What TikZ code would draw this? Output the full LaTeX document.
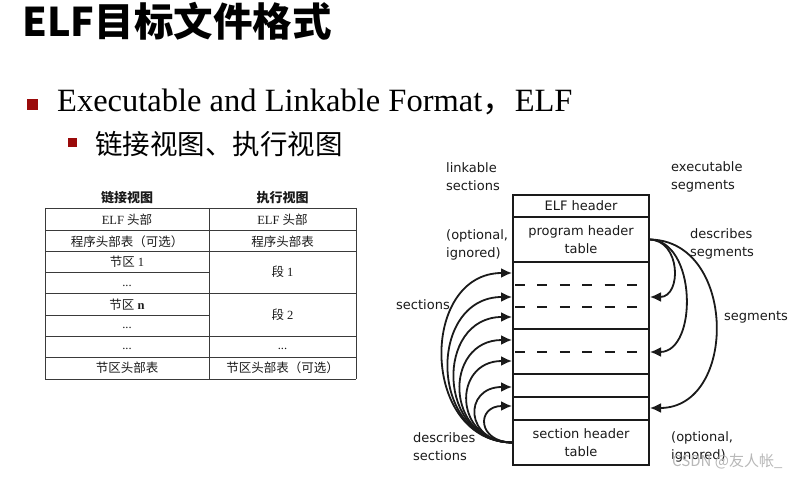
\documentclass[tikz,border=0pt]{standalone}
\usepackage{fontspec}
\setmainfont{Liberation Serif}
\newfontfamily\cjk{Noto Sans CJK SC}
\newfontfamily\dejavu{DejaVu Sans}
\usetikzlibrary{arrows.meta,positioning,calc}
\definecolor{Ink}{HTML}{1A1A1A}
\definecolor{Bullet}{HTML}{9A0A0A}
\definecolor{Rule}{HTML}{3A3A3A}
\definecolor{Mark}{HTML}{B8B8B8}

\tikzset{
  block/.style={draw=Ink,line width=1.8pt,minimum width=136pt,inner sep=0pt,
                outer sep=0pt,font=\dejavu\fontsize{13}{18}\selectfont,
                align=center,text=Ink},
  cut/.style={Ink,line width=2.4pt,dash pattern=on 10pt off 12.4pt},
  link/.style={Ink,line width=1.8pt,-{Latex[length=11pt,width=10pt]}},
  lbl/.style={font=\dejavu\fontsize{13}{18}\selectfont,text=Ink,align=left,
              inner sep=0pt,anchor=west},
  cell/.style={font=\fontsize{12.5}{14}\selectfont,text=Ink,inner sep=0pt},
  grid/.style={Rule,line width=0.8pt}
}

\begin{document}
\begin{tikzpicture}[x=1pt,y=-1pt]
  \useasboundingbox[fill=white] (0,0) rectangle (804,478);

  % title and bullets
  \node[anchor=west,inner sep=0pt,font=\cjk\bfseries\fontsize{39.5}{42}\selectfont]
        (title) at (22,21) {ELF目标文件格式};
  \node[fill=Bullet,minimum size=11pt,inner sep=0pt] (dot1) at (32.5,104.5) {};
  \node[anchor=base west,inner sep=0pt,font=\fontsize{32.5}{35}\selectfont]
        (item1) at (57,112) {Executable and Linkable Format{\cjk ，}ELF};
  \node[fill=Bullet,minimum size=9pt,inner sep=0pt] (dot2) at (72.5,142.5) {};
  \node[anchor=west,inner sep=0pt,font=\cjk\fontsize{27.5}{30}\selectfont]
        (item2) at (95,144) {链接视图、执行视图};

  % table of the two views
  \foreach \y in {208,230,251,293,336,357,379}
    \draw[grid] (45,\y) -- (356,\y);
  \foreach \y in {272,315}
    \draw[grid] (45,\y) -- (209,\y);
  \foreach \x in {45,209,356}
    \draw[grid] (\x,208) -- (\x,379);
  \node[cell,font=\cjk\bfseries\fontsize{13}{14}\selectfont] (lhead) at (127,198) {链接视图};
  \node[cell,font=\cjk\bfseries\fontsize{13}{14}\selectfont] (rhead) at (282.5,198) {执行视图};
  \node[cell] (la) at (127,220) {ELF {\cjk 头部}};
  \node[cell] (ra) at (282.5,220) {ELF {\cjk 头部}};
  \node[cell] (lb) at (127,241.5) {\cjk 程序头部表（可选）};
  \node[cell] (rb) at (282.5,241.5) {\cjk 程序头部表};
  \node[cell] (lc) at (127,262) {{\cjk 节区} 1};
  \node[cell,anchor=base] (ld) at (127,287) {...};
  \node[cell] (rc) at (282.5,272) {{\cjk 段} 1};
  \node[cell] (le) at (127,305) {{\cjk 节区} \textbf{n}};
  \node[cell,anchor=base] (lf) at (127,329) {...};
  \node[cell] (re) at (282.5,315) {{\cjk 段} 2};
  \node[cell,anchor=base] (lg) at (127,350) {...};
  \node[cell,anchor=base] (rg) at (282.5,350) {...};
  \node[cell] (lh) at (127,368) {\cjk 节区头部表};
  \node[cell] (rh) at (282.5,368) {\cjk 节区头部表（可选）};

  % file layout
  \node[block,minimum height=22pt,anchor=north west] (hdr) at (513,195) {ELF header};
  \node[block,minimum height=45pt,below=0pt of hdr] (pht) {program header\\table};
  \node[block,minimum height=67pt,below=0pt of pht] (sec1) {};
  \node[block,minimum height=45pt,below=0pt of sec1] (sec2) {};
  \node[block,minimum height=23pt,below=0pt of sec2] (sec3) {};
  \node[block,minimum height=23pt,below=0pt of sec3] (sec4) {};
  \node[block,minimum height=45pt,below=0pt of sec4] (sht) {section header\\table};
  \draw[cut] ($(sec1.north west)+(2,23)$) -- ($(sec1.north east)+(-12,23)$);
  \draw[cut] ($(sec1.north west)+(2,45)$) -- ($(sec1.north east)+(-12,45)$);
  \draw[cut] ($(sec2.north west)+(2,23)$) -- ($(sec2.north east)+(-12,23)$);

  % section header table -> sections
  \foreach \ty/\b [count=\i] in {273/93,297/85,317/77,340/69,361/60,387/49,406/36} {
    \coordinate (sin\i) at (512,\ty);
    \draw[link] (sht.west) .. controls +(-\b,0) and +(-\b,0) .. (sin\i);
  }
  % program header table -> segments
  \foreach \ty/\b [count=\i] in {297/32,352/48,408/88} {
    \coordinate (gin\i) at (650,\ty);
    \draw[link] (pht.east) .. controls +(\b,0) and +(\b,0) .. (gin\i);
  }

  % labels
  \node[lbl] (lview) at (446,177) {linkable\\sections};
  \node[lbl] (eview) at (671,177) {executable\\segments};
  \node[lbl] (popt) at (446,245) {(optional,\\ignored)};
  \node[lbl] (pdesc) at (690,244) {describes\\segments};
  \node[lbl] (secs) at (396,305) {sections};
  \node[lbl] (segs) at (724,317) {segments};
  \node[lbl] (sdesc) at (413,447) {describes\\sections};
  \node[lbl] (sopt) at (671,447) {(optional,\\ignored)};
  \node[anchor=west,inner sep=0pt,text=Mark,font=\cjk\fontsize{15}{16}\selectfont]
        (mark) at (672,461) {CSDN @友人帐\_};
\end{tikzpicture}
\end{document}
